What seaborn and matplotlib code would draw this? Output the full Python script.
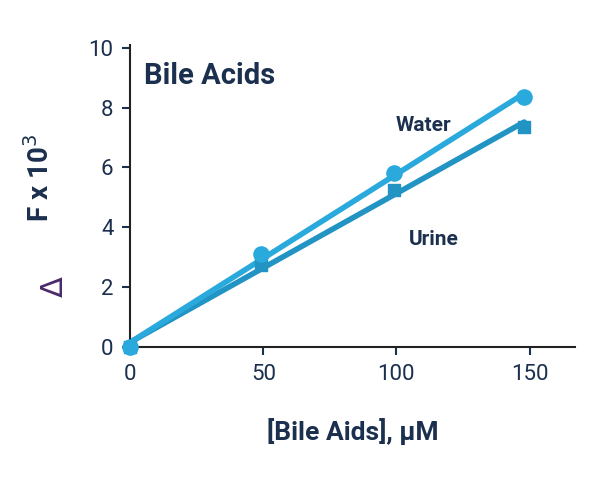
import matplotlib as mp
mp.use('Agg')
import matplotlib.pyplot as plt
import seaborn as sns
import numpy as np

conc = [0, 49, 99, 148]
water = [0.0, 3.1, 5.8, 8.35]
urine = [0.0, 2.75, 5.25, 7.35]
x_ticks = [0, 50, 100, 150]
y_ticks = [0, 2, 4, 6, 8, 10]

sns.set_style("ticks")
plt.rcParams['font.family'] = ['Roboto', 'DejaVu Sans']
navy = "#1b2f4e"

fig = plt.figure(figsize=(6, 4.8), dpi=100)
ax = fig.add_axes([0.217, 0.277, 0.741, 0.63])

sns.regplot(x=conc, y=urine, ax=ax, ci=None, color="#2194c4", marker="s",
            scatter_kws={"s": 70, "zorder": 3, "clip_on": False, "alpha": 1},
            line_kws={"lw": 4})
sns.regplot(x=conc, y=water, ax=ax, ci=None, color="#2aa9dd", marker="o",
            scatter_kws={"s": 120, "zorder": 4, "clip_on": False, "alpha": 1},
            line_kws={"lw": 4})

ax.set_xlim(0, 167)
ax.set_ylim(0, 10.1)
ax.set_xticks(x_ticks)
ax.set_yticks(y_ticks)
ax.tick_params(labelsize=16, colors=navy, length=6, width=1.5, pad=6)
for s in ["left", "bottom"]:
    ax.spines[s].set_linewidth(1.5)
    ax.spines[s].set_color("#222222")
sns.despine(ax=ax)

ax.text(0.03, 0.87, "Bile Acids", transform=ax.transAxes, fontsize=21,
        fontweight="bold", color=navy)
ax.text(110, 7.2, "Water", fontsize=15, fontweight="bold", color=navy, ha="center")
ax.text(114, 3.4, "Urine", fontsize=15, fontweight="bold", color=navy, ha="center")

ax.set_xlabel("[Bile Aids], μM", fontsize=19, fontweight="bold", color=navy, labelpad=24)
ax.set_ylabel("F x 10$^3$", fontsize=20, fontweight="bold",
              color=navy, labelpad=20)
ax.yaxis.set_label_coords(-0.17, 0.56)
ax.text(-0.17, 0.2, r"$\Delta$", transform=ax.transAxes, rotation=90,
        fontsize=22, color="#4b2a6b", ha="center", va="center")

fig.savefig("out.png")
